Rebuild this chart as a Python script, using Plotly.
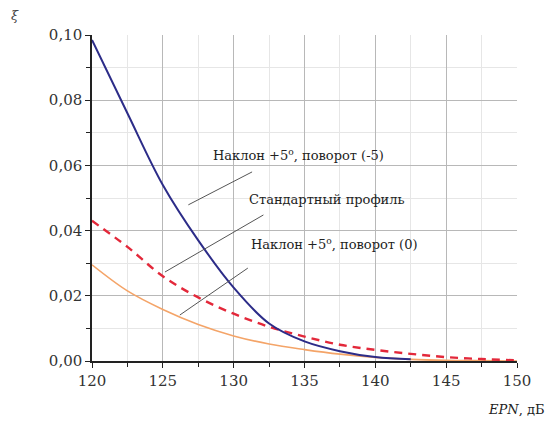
import plotly.graph_objects as go

epn = [120, 122.5, 125, 127.5, 130, 132.5, 135, 137.5, 140, 142.5, 145, 147.5, 150]
tilt_rot_m5 = [0.0985, 0.076, 0.054, 0.037, 0.0225, 0.0115, 0.006, 0.003, 0.0012, 0.0005, None, None, None]
standard = [0.043, 0.035, 0.026, 0.0195, 0.0145, 0.0105, 0.0075, 0.005, 0.0034, 0.0022, 0.0012, 0.0006, 0.0002]
tilt_rot_0 = [0.0295, 0.0215, 0.0158, 0.0112, 0.0077, 0.0052, 0.0035, 0.0021, 0.0011, 0.0005, 0.0002, 0.0001, 0.0]

labels = ["Наклон +5<sup>o</sup>, поворот (-5)", "Стандартный профиль", "Наклон +5<sup>o</sup>, поворот (0)"]
label_pos = [(134.6, 0.0632), (136.6, 0.0494), (137.1, 0.0359)]
pointers = [((126.8, 0.0479), (131.3, 0.058)),
            ((125.15, 0.0273), (132.1, 0.0448)),
            ((126.2, 0.0141), (131.0, 0.0285))]

serif = "DejaVu Serif"

fig = go.Figure()
fig.add_trace(go.Scatter(x=epn, y=tilt_rot_0, mode="lines", line=dict(color="#f4a468", width=1.6, shape="spline"), showlegend=False))
fig.add_trace(go.Scatter(x=epn, y=standard, mode="lines", line=dict(color="#e3283a", width=2.4, dash="8px,6px", shape="spline"), showlegend=False))
fig.add_trace(go.Scatter(x=epn, y=tilt_rot_m5, mode="lines", line=dict(color="#2c2c88", width=2, shape="spline"), showlegend=False))

for (p0, p1) in pointers:
    fig.add_shape(type="line", x0=p0[0], y0=p0[1], x1=p1[0], y1=p1[1],
                  line=dict(color="#555555", width=1))

for txt, (x, y) in zip(labels, label_pos):
    fig.add_annotation(x=x, y=y, text=txt, showarrow=False,
                       font=dict(family=serif, size=13, color="#222222"))

fig.add_annotation(xref="paper", yref="paper", x=1.068, y=-0.15, xanchor="right", yanchor="middle",
                   text="<i>EPN</i>, дБ", showarrow=False, font=dict(family=serif, size=13, color="#222222"))
fig.add_annotation(xref="paper", yref="paper", x=-0.181, y=1.061, xanchor="center", yanchor="middle",
                   text="<i>ξ</i>", showarrow=False, font=dict(family=serif, size=13, color="#444444"))

fig.update_layout(
    width=551, height=421,
    margin=dict(l=92, r=34, t=35, b=60),
    paper_bgcolor="white", plot_bgcolor="white",
    separators=", ",
    font=dict(family=serif, size=15, color="#333333"),
    xaxis=dict(range=[120, 150], dtick=5, tick0=120, showline=True, linecolor="#222222", linewidth=1.5,
               ticks="outside", ticklen=5, tickcolor="#222222", showgrid=True, gridcolor="#b8b8b8", gridwidth=1,
               zeroline=False,
               minor=dict(dtick=2.5, showgrid=True, gridcolor="#e6e6e6", ticks="outside", ticklen=4, tickcolor="#222222")),
    yaxis=dict(range=[0, 0.1], dtick=0.02, tick0=0, tickformat=".2f", showline=True, linecolor="#222222", linewidth=1.5,
               ticks="outside", ticklen=5, tickcolor="#222222", showgrid=True, gridcolor="#b8b8b8", gridwidth=1,
               zeroline=False,
               minor=dict(dtick=0.01, showgrid=True, gridcolor="#e6e6e6", ticks="outside", ticklen=4, tickcolor="#222222")),
)

fig.write_html("out.html")
